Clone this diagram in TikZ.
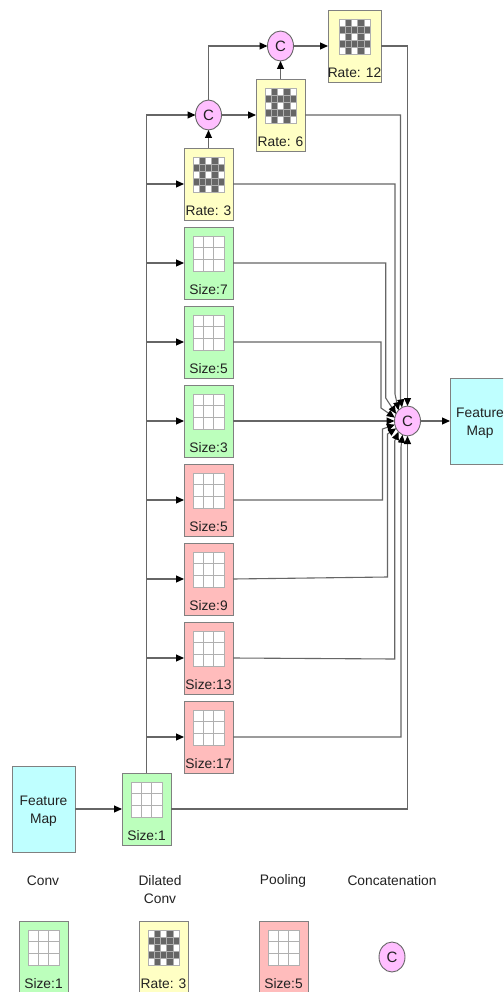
\documentclass[tikz,border=0pt]{standalone}
\usepackage{fontspec}
\setmainfont{Liberation Sans}
\usetikzlibrary{arrows.meta,shapes.geometric}
\definecolor{convgreen}{HTML}{BCFFBC}
\definecolor{rateyellow}{HTML}{FFFFC4}
\definecolor{poolred}{HTML}{FFBCBC}
\definecolor{mapcyan}{HTML}{BFFFFF}
\definecolor{catpink}{HTML}{FFBFFF}
\definecolor{edgegray}{HTML}{808080}
\definecolor{linegray}{HTML}{666666}
\definecolor{cellgray}{HTML}{666666}
\definecolor{gridgray}{HTML}{B0B0B0}
\definecolor{inkgray}{HTML}{222222}
\tikzset{
	every node/.style={font=\fontsize{13.8}{18}\selectfont,text=inkgray,align=center},
	opbox/.style={draw=edgegray,line width=0.9pt,anchor=north west,minimum width=49pt,minimum height=72pt,inner sep=0pt,outer sep=0pt},
	mapbox/.style={draw=edgegray,line width=0.9pt,fill=mapcyan,minimum width=63pt,minimum height=86pt,inner sep=0pt,outer sep=0pt},
	catnode/.style={draw=linegray,line width=0.9pt,fill=catpink,ellipse,minimum width=26pt,minimum height=30pt,inner sep=0pt,outer sep=0pt,font=\fontsize{15}{18}\selectfont},
	flow/.style={draw=linegray,line width=1.1pt,-{Triangle[length=8pt,width=7pt,black]}},
}
\newcommand{\sizeblock}[5]{
	\node[opbox,fill=#4] (#1) at (#2,#3) {};
	\begin{scope}[shift={(#1.north)}]
		\fill[white] (-15.5,9) rectangle (15.5,44);
		\draw[gridgray,line width=0.9pt] (-5.2,9) -- (-5.2,44) (5.2,9) -- (5.2,44) (-15.5,20.7) -- (15.5,20.7) (-15.5,32.3) -- (15.5,32.3);
		\draw[gridgray,line width=0.9pt] (-15.5,9) rectangle (15.5,44);
		\node (#1text) at (0,63) {#5};
	\end{scope}
}
\newcommand{\rateblock}[5]{
	\node[opbox,fill=rateyellow,minimum width=#4] (#1) at (#2,#3) {};
	\begin{scope}[shift={(#1.north)}]
		\fill[white] (-15.5,9) rectangle (15.5,44);
		\foreach \row in {1,3}
			\fill[cellgray] (-15.5,9+\row*7) rectangle (15.5,16+\row*7);
		\foreach \col in {1,3}
			\fill[cellgray] (-15.5+\col*6.2,9) rectangle (-9.3+\col*6.2,44);
		\draw[gridgray,line width=0.7pt] (-15.5,9) rectangle (15.5,44);
		\foreach \col in {1,2,3,4}
			\draw[gridgray,line width=0.4pt] (-15.5+\col*6.2,9) -- (-15.5+\col*6.2,44);
		\foreach \row in {1,2,3,4}
			\draw[gridgray,line width=0.4pt] (-15.5,9+\row*7) -- (15.5,9+\row*7);
		\node (#1text) at (0,63) {#5};
	\end{scope}
}
\begin{document}
\begin{tikzpicture}[x=1pt,y=-1pt]
	\clip (0,0) rectangle (503,992);
	\fill[white] (0,0) rectangle (503,992);

	\node[mapbox] (mapin) at (43.5,809) {};
	\node (mapintext) at (43.5,811) {Feature\\Map};
	\node[mapbox] (mapout) at (481.5,421) {};
	\node (mapouttext) at (480,423) {Feature\\Map};
	\node[catnode] (cmain) at (407.5,421) {C};
	\node[catnode] (cleft) at (208.5,115) {C};
	\node[catnode] (ctop) at (280.5,46) {C};

	\sizeblock{size1}{122}{773}{convgreen}{Size:1}
	\rateblock{rate3}{184}{148}{49pt}{Rate: 3}
	\rateblock{rate6}{256}{79}{49pt}{Rate: 6}
	\rateblock{rate12}{328}{10}{53pt}{Rate: 12}
	\foreach \nm/\yy/\colr/\txt in {conv7/227/convgreen/Size:7,conv5/306/convgreen/Size:5,conv3/385/convgreen/Size:3,pool5/464/poolred/Size:5,pool9/543/poolred/Size:9,pool13/622/poolred/Size:13,pool17/701/poolred/Size:17}{
		\sizeblock{\nm}{184}{\yy}{\colr}{\txt}
	}

	\draw[flow] (mapin.east |- size1.east) -- (size1.west);
	\draw[flow] (size1.north) |- (cleft.west);
	\foreach \nm in {rate3,conv7,conv5,conv3,pool5,pool9,pool13,pool17}
		\draw[flow] (size1.north |- \nm.west) -- (\nm.west);
	\draw[flow] (rate3.north) -- (cleft.south);
	\draw[flow] (cleft.east) -- (rate6.west);
	\draw[flow] (cleft.north) |- (ctop.west);
	\draw[flow] (rate6.north) -- (ctop.south);
	\draw[flow] (ctop.east) -- (rate12.west);

	\draw[flow] (rate12.east) -| (cmain.north);
	\draw[flow] (rate6.east) -- (400.5,115) -- (400.5,398) -- (cmain.112);
	\draw[flow] (rate3.east) -- (395,184) -- (395,394) -- (cmain.130);
	\draw[flow] (conv7.east) -- (385.7,263) -- (385.7,398) -- (cmain.148);
	\draw[flow] (conv5.east) -- (381,342) -- (381,408) -- (cmain.165);
	\draw[flow] (conv3.east) -- (cmain.west);
	\draw[flow] (pool5.east) -- (382.5,500) -- (382.5,429) -- (cmain.196);
	\draw[flow] (pool9.east) -- (387.5,577) -- (387.5,434) -- (cmain.213);
	\draw[flow] (pool13.east) -- (394.7,659) -- (394.7,441) -- (cmain.230);
	\draw[flow] (pool17.east) -- (401,737) -- (401,447) -- (cmain.250);
	\draw[flow] (size1.east) -| (cmain.south);
	\draw[flow] (cmain.east) -- (mapout.west);

	\node (convtitle) at (43,881) {Conv};
	\node[anchor=north] (dilatedtitle) at (160,872) {Dilated\\Conv};
	\node (pooltitle) at (283,881) {Pooling};
	\node (cattitle) at (392,881) {Concatenation};
	\sizeblock{legconv}{19}{921}{convgreen}{Size:1}
	\rateblock{legrate}{139}{921}{49pt}{Rate: 3}
	\sizeblock{legpool}{259}{921}{poolred}{Size:5}
	\node[catnode] (legcat) at (392,957) {C};
\end{tikzpicture}
\end{document}
